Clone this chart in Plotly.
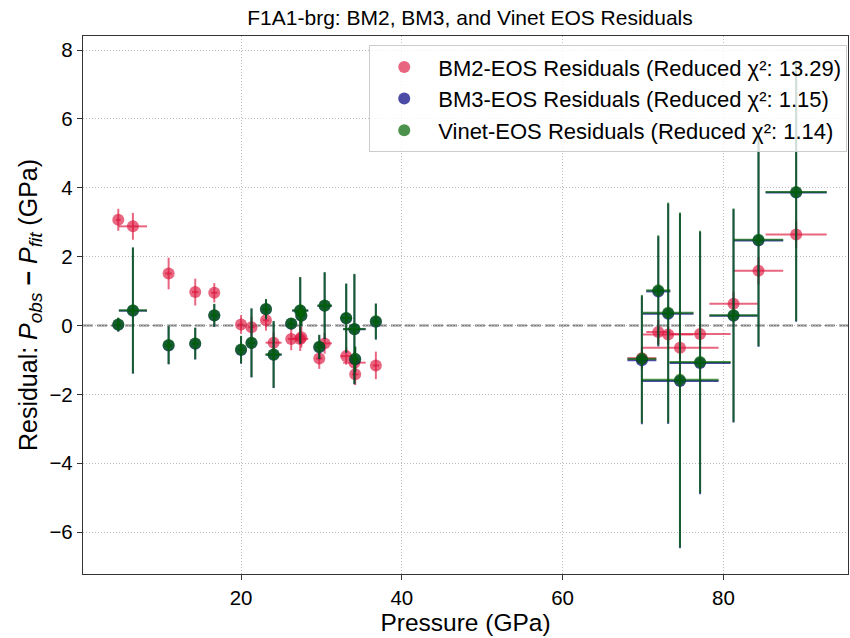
import plotly.graph_objects as go

# Pressure points (GPa) and their uncertainties
pressure = [4.73, 6.55, 10.99, 14.3, 16.67, 20.0, 21.3, 23.1, 24.05, 26.24, 27.36, 27.5,
            29.73, 30.4, 33.08, 34.1, 34.2, 36.77,
            69.86, 71.9, 73.13, 74.6, 77.1, 81.26, 84.37, 89.05]
pressure_err = [0.3, 1.75, 0.4, 0.4, 0.4, 0.3, 0.4, 0.4, 1.0, 0.4, 1.0, 0.4,
                0.4, 0.9, 0.7, 1.4, 0.4, 0.4,
                1.8, 1.5, 3.15, 4.8, 3.8, 3.0, 3.07, 3.8]

# BM2 residuals
bm2_resid = [3.07, 2.88, 1.51, 0.97, 0.95, 0.03, -0.05, 0.15, -0.50, -0.39, -0.39, -0.34,
             -0.96, -0.52, -0.89, -1.08, -1.42, -1.16,
             -0.95, -0.19, -0.26, -0.65, -0.25, 0.63, 1.59, 2.64]
bm2_err = [0.32, 0.39, 0.46, 0.39, 0.28, 0.27, 0.3, 0.3, 0.3, 0.33, 0.35, 0.3,
           0.3, 0.3, 0.25, 0.3, 0.31, 0.4,
           0.3, 0.35, 0.3, 0.3, 0.3, 0.35, 0.4, 0.39]

# BM3 residuals
bm3_resid = [0.02, 0.43, -0.58, -0.53, 0.29, -0.71, -0.51, 0.47, -0.85, 0.05, 0.43, 0.28,
             -0.63, 0.57, 0.21, -0.11, -0.98, 0.11,
             -1.01, 0.99, 0.34, -1.61, -1.09, 0.28, 2.47, 3.86]
# Vinet residuals
vinet_resid = [0.03, 0.44, -0.57, -0.52, 0.30, -0.70, -0.50, 0.48, -0.84, 0.06, 0.44, 0.29,
               -0.62, 0.58, 0.22, -0.10, -0.97, 0.12,
               -0.97, 1.02, 0.37, -1.58, -1.06, 0.30, 2.49, 3.88]
fit_err = [0.2, 1.83, 0.55, 0.46, 0.33, 0.4, 1.0, 0.29, 0.97, 0.15, 0.97, 0.3,
           0.35, 0.97, 1.0, 1.6, 0.36, 0.52,
           1.86, 1.6, 3.2, 4.86, 3.81, 3.1, 3.09, 3.75]

labels = [
    "BM2-EOS Residuals (Reduced χ²: 13.29)",
    "BM3-EOS Residuals (Reduced χ²: 1.15)",
    "Vinet-EOS Residuals (Reduced χ²: 1.14)",
]

series = [
    (bm2_resid, bm2_err, "rgba(220,20,60,0.65)", labels[0]),
    (bm3_resid, fit_err, "rgba(0,0,128,0.7)", labels[1]),
    (vinet_resid, fit_err, "rgba(0,100,0,0.7)", labels[2]),
]

fig = go.Figure()
for resid, yerr, color, name in series:
    fig.add_trace(go.Scatter(
        x=pressure, y=resid, mode="markers", name=name,
        marker=dict(size=12, color=color, line=dict(width=0)),
        error_x=dict(type="data", array=pressure_err, color=color, thickness=2, width=0),
        error_y=dict(type="data", array=yerr, color=color, thickness=2, width=0),
    ))

fig.add_hline(y=0, line=dict(color="#7f7f7f", width=2, dash="10px,4px"), layer="below")

font = "Liberation Sans, Arial, sans-serif"
axis_common = dict(
    showline=True, linecolor="#333333", linewidth=1.3, mirror=True,
    ticks="outside", ticklen=5, tickwidth=1.2, tickcolor="#333333",
    showgrid=True, gridcolor="#bdbdbd", griddash="1px,2px", gridwidth=1,
    zeroline=False, tickfont=dict(size=20.5, color="black", family=font),
)

sub = '<sub><span style="font-size:19px"><i>{}</i></span></sub>'
ytitle = ("Residual: <i>P</i>" + sub.format("obs") + " <b>−</b> "
          "<i>P</i>" + sub.format("fit") + " (GPa)")

fig.update_layout(
    width=850, height=638,
    margin=dict(l=83, r=2, t=36, b=64),
    paper_bgcolor="white", plot_bgcolor="white",
    font=dict(family=font, color="black"),
    title=dict(text="F1A1-brg: BM2, BM3, and Vinet EOS Residuals",
               x=0.553, xanchor="center", y=0.972, yanchor="middle",
               font=dict(size=21, color="black")),
    xaxis=dict(range=[0.34, 95.5], tickvals=[20, 40, 60, 80],
               title=dict(text="Pressure (GPa)", font=dict(size=24.5), standoff=4),
               **axis_common),
    yaxis=dict(range=[-7.22, 8.41], tickvals=[-6, -4, -2, 0, 2, 4, 6, 8],
               title=dict(text=ytitle, font=dict(size=25), standoff=4),
               **axis_common),
    legend=dict(x=0.999, xanchor="right", y=0.983, yanchor="top",
                bgcolor="rgba(255,255,255,0.8)", bordercolor="#cccccc", borderwidth=1,
                font=dict(size=22, color="black"), itemwidth=58, tracegroupgap=0),
    showlegend=True,
)

fig.write_html("out.html")
